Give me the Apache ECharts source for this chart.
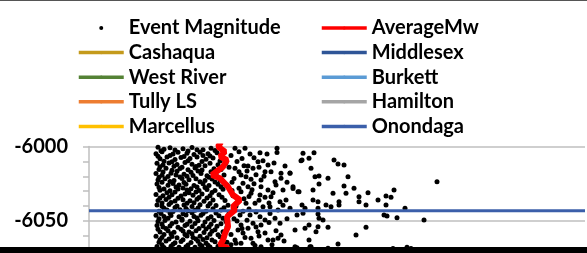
<!DOCTYPE html>
<html>
<head>
<meta charset="utf-8">
<script src="https://cdn.jsdelivr.net/npm/echarts@6/dist/echarts.min.js"></script>
<style>
  html, body { margin: 0; padding: 0; background: #fff; }
  #wrap { position: relative; width: 587px; height: 253px; overflow: hidden; background: #fff; }
  #chart { position: absolute; left: 0; top: 0; width: 587px; height: 400px; }
  #topline { position: absolute; left: 0; top: 0; width: 587px; height: 1px; background: #555; }
  #bottomband { position: absolute; left: 0; top: 247px; width: 587px; height: 6px; background: #000; }
</style>
</head>
<body>
<div id="wrap">
  <div id="chart"></div>
  <div id="topline"></div>
  <div id="bottomband"></div>
</div>
<script>
// event magnitude (Mw) vs depth (ft)
var events = [
  // dense band left of the average line
  [-2.31,-6000.5],[-2.25,-6001.8],[-2.19,-6000.9],[-2.06,-6001.5],[-1.97,-6000.7],[-1.86,-6002.1],[-1.78,-6001.2],
  [-2.33,-6004.8],[-2.27,-6003.6],[-2.16,-6005.1],[-2.11,-6003.9],[-2.02,-6004.6],[-1.95,-6005.3],[-1.89,-6003.8],[-1.81,-6004.9],[-1.72,-6004.2],
  [-2.29,-6008.3],[-2.22,-6007.1],[-2.14,-6008.8],[-2.08,-6007.4],[-1.99,-6008.1],[-1.92,-6007.0],[-1.83,-6008.6],[-1.76,-6007.7],[-1.66,-6008.4],
  [-2.32,-6011.2],[-2.26,-6012.4],[-2.20,-6011.0],[-2.12,-6012.1],[-2.04,-6010.8],[-1.97,-6011.9],[-1.90,-6012.6],[-1.79,-6011.3],[-1.71,-6012.2],[-1.63,-6010.9],
  [-2.30,-6015.4],[-2.23,-6014.6],[-2.17,-6015.9],[-2.09,-6014.8],[-2.01,-6015.6],[-1.94,-6014.5],[-1.87,-6015.8],[-1.75,-6014.9],[-1.68,-6015.5],
  [-2.33,-6018.2],[-2.27,-6019.3],[-2.18,-6018.0],[-2.13,-6019.1],[-2.05,-6018.6],[-1.96,-6019.4],[-1.88,-6018.1],[-1.82,-6019.6],[-1.73,-6018.7],[-1.65,-6019.2],
  [-2.31,-6022.5],[-2.24,-6021.6],[-2.15,-6022.8],[-2.07,-6021.4],[-2.00,-6022.3],[-1.93,-6021.7],[-1.84,-6022.9],[-1.77,-6021.8],[-1.69,-6022.4],
  [-2.32,-6025.1],[-2.21,-6026.0],[-2.16,-6024.9],[-2.10,-6025.8],[-2.03,-6025.3],[-1.95,-6026.2],[-1.86,-6025.0],[-1.80,-6026.1],[-1.71,-6025.4],[-1.62,-6025.9],
  [-2.29,-6029.4],[-2.25,-6028.5],[-2.19,-6029.7],[-2.11,-6028.6],[-2.02,-6029.2],[-1.98,-6028.3],[-1.90,-6029.6],[-1.82,-6028.8],[-1.74,-6029.5],[-1.66,-6028.7],
  [-2.33,-6032.2],[-2.26,-6033.1],[-2.17,-6032.4],[-2.08,-6033.3],[-2.04,-6031.9],[-1.96,-6032.8],[-1.87,-6031.8],[-1.79,-6033.0],[-1.70,-6032.3],
  [-2.31,-6036.3],[-2.23,-6035.5],[-2.14,-6036.6],[-2.06,-6035.7],[-1.99,-6036.4],[-1.92,-6035.4],[-1.85,-6036.8],[-1.76,-6035.9],[-1.64,-6036.2],
  [-2.32,-6039.2],[-2.27,-6040.1],[-2.20,-6039.0],[-2.12,-6039.9],[-2.05,-6039.3],[-1.97,-6040.3],[-1.89,-6039.1],[-1.81,-6040.0],[-1.73,-6039.6],[-1.61,-6039.4],
  [-2.30,-6043.4],[-2.22,-6042.6],[-2.16,-6043.7],[-2.09,-6042.5],[-2.01,-6043.2],[-1.94,-6042.8],[-1.83,-6043.5],[-1.68,-6042.7],
  [-2.33,-6046.1],[-2.25,-6047.0],[-2.18,-6046.3],[-2.10,-6047.2],[-2.03,-6046.0],[-1.95,-6046.9],[-1.88,-6046.2],[-1.78,-6047.1],[-1.70,-6046.4],
  [-2.31,-6050.4],[-2.24,-6049.6],[-2.13,-6050.7],[-2.07,-6049.5],[-1.99,-6050.2],[-1.91,-6049.8],[-1.84,-6050.6],[-1.75,-6049.7],[-1.63,-6050.3],
  [-2.32,-6053.1],[-2.26,-6054.0],[-2.19,-6053.3],[-2.11,-6054.2],[-2.04,-6053.0],[-1.97,-6053.9],[-1.86,-6053.2],[-1.80,-6054.1],[-1.72,-6053.6],
  [-2.29,-6057.3],[-2.21,-6056.5],[-2.15,-6057.6],[-2.06,-6056.7],[-2.00,-6057.4],[-1.93,-6056.6],[-1.85,-6057.8],[-1.77,-6056.9],[-1.66,-6057.2],
  [-2.33,-6060.2],[-2.27,-6061.1],[-2.17,-6060.4],[-2.12,-6061.3],[-2.02,-6060.1],[-1.96,-6061.0],[-1.89,-6060.3],[-1.82,-6061.2],[-1.69,-6060.6],
  [-2.30,-6064.3],[-2.23,-6063.5],[-2.14,-6064.6],[-2.08,-6063.7],[-1.98,-6064.4],[-1.91,-6063.6],[-1.83,-6064.8],[-1.74,-6063.9],[-1.62,-6064.2],
  [-2.32,-6067.1],[-2.25,-6067.8],[-2.18,-6066.9],[-2.10,-6067.6],[-2.03,-6067.2],[-1.94,-6067.7],[-1.87,-6066.8],[-1.79,-6067.4],[-1.71,-6067.0],
  [-2.28,-6002.9],[-2.14,-6002.4],[-2.01,-6003.1],[-1.92,-6002.2],[-1.74,-6002.7],
  [-2.31,-6006.5],[-2.19,-6006.1],[-2.05,-6006.7],[-1.86,-6006.0],[-1.79,-6006.4],
  [-2.25,-6009.9],[-2.17,-6010.3],[-2.01,-6009.6],[-1.87,-6010.1],[-1.69,-6009.7],
  [-2.29,-6013.6],[-2.15,-6013.2],[-2.07,-6013.9],[-1.93,-6013.4],[-1.84,-6013.0],
  [-2.26,-6017.1],[-2.12,-6016.6],[-1.98,-6017.3],[-1.91,-6016.5],[-1.78,-6016.9],
  [-2.30,-6020.6],[-2.21,-6020.1],[-2.09,-6020.5],[-2.02,-6020.0],[-1.80,-6020.7],
  [-2.27,-6024.0],[-2.19,-6023.5],[-2.05,-6024.1],[-1.89,-6023.6],[-1.74,-6023.9],
  [-2.30,-6027.5],[-2.13,-6027.1],[-2.06,-6027.8],[-1.92,-6027.2],[-1.84,-6027.6],[-1.68,-6027.0],
  [-2.22,-6031.0],[-2.14,-6030.5],[-2.00,-6031.1],[-1.93,-6030.6],[-1.77,-6030.9],
  [-2.29,-6034.6],[-2.20,-6034.1],[-2.11,-6034.8],[-1.90,-6034.2],[-1.82,-6034.5],[-1.67,-6034.0],
  [-2.27,-6038.0],[-2.18,-6037.6],[-2.02,-6038.1],[-1.95,-6037.7],[-1.79,-6038.2],
  [-2.25,-6041.5],[-2.14,-6041.0],[-2.03,-6041.6],[-1.91,-6041.2],[-1.76,-6041.7],[-1.65,-6041.1],
  [-2.28,-6045.0],[-2.19,-6044.6],[-2.06,-6045.1],[-1.97,-6044.5],[-1.86,-6044.9],[-1.73,-6044.7],
  [-2.30,-6048.5],[-2.21,-6048.1],[-2.07,-6048.6],[-1.92,-6048.0],[-1.81,-6048.4],[-1.66,-6048.2],
  [-2.27,-6052.0],[-2.17,-6051.6],[-2.02,-6052.1],[-1.94,-6051.7],[-1.78,-6052.2],[-1.68,-6051.9],
  [-2.31,-6055.5],[-2.23,-6055.1],[-2.08,-6055.6],[-1.90,-6055.0],[-1.83,-6055.4],[-1.74,-6055.8],
  [-2.25,-6059.0],[-2.18,-6058.6],[-2.04,-6059.1],[-1.97,-6058.5],[-1.79,-6058.9],[-1.71,-6059.3],
  [-2.29,-6062.5],[-2.20,-6062.1],[-2.06,-6062.6],[-1.93,-6062.0],[-1.86,-6062.4],[-1.77,-6062.7],
  [-2.27,-6066.0],[-2.16,-6065.6],[-2.01,-6066.1],[-1.89,-6065.7],[-1.81,-6066.2],[-1.66,-6065.9],
  // right of the average line
  [-1.54,-6001.2],[-1.44,-6001.2],[-1.29,-6004.2],[-1.12,-6001.2],[-0.86,-6004.6],[-0.87,-6009.1],[-1.31,-6010.2],[-1.26,-6009.5],
  [-1.21,-6012.4],[-1.04,-6013.1],[-1.54,-6014.6],[-1.41,-6013.1],[-1.36,-6014.6],[-1.24,-6016.9],[-1.18,-6016.9],[-1.08,-6018.0],
  [-0.99,-6018.0],[-1.48,-6019.1],[-1.43,-6020.3],[-1.38,-6022.0],[-1.28,-6022.5],[-1.14,-6023.6],[-1.08,-6021.3],[-1.46,-6024.7],
  [-1.41,-6027.0],[-1.28,-6027.0],[-1.21,-6029.2],[-1.13,-6025.8],[-1.06,-6029.2],[-0.96,-6027.0],[-0.91,-6030.3],[-1.48,-6030.3],
  [-1.38,-6031.4],[-1.29,-6032.5],[-1.18,-6033.7],[-1.09,-6037.0],[-1.03,-6035.9],[-1.51,-6037.0],[-1.43,-6038.1],[-1.34,-6038.1],
  [-1.26,-6040.4],[-1.19,-6040.4],[-1.11,-6042.6],[-0.99,-6041.5],[-0.84,-6041.5],[-1.49,-6046.0],[-1.39,-6046.0],[-1.29,-6047.1],
  [-1.24,-6049.3],[-1.14,-6048.2],[-1.09,-6051.5],[-1.48,-6052.7],[-1.36,-6051.5],[-1.28,-6052.7],[-1.51,-6056.0],[-1.41,-6054.9],
  [-1.31,-6057.2],[-1.13,-6056.5],[-1.54,-6062.7],[-1.21,-6062.7],[-1.16,-6062.7],[-1.11,-6061.6],[-1.08,-6059.4],[-1.36,-6064.9],
  [-1.53,-6064.9],[-1.48,-6064.9],[-0.94,-6067.2],[-1.28,-6067.2],
  [-1.58,-6006.0],[-1.52,-6010.0],[-1.47,-6008.0],[-1.57,-6024.0],[-1.50,-6028.0],[-1.56,-6033.0],[-1.45,-6035.0],[-1.60,-6045.0],
  [-1.52,-6050.0],[-1.46,-6058.0],[-1.58,-6059.0],[-1.40,-6042.0],[-1.33,-6044.0],[-1.35,-6025.0],[-1.33,-6019.0],[-1.24,-6034.0],
  [-1.19,-6045.0],[-1.44,-6061.0],[-1.30,-6060.0],[-1.50,-6017.0],[-1.45,-6013.0],[-1.39,-6005.0],[-1.60,-6014.0],[-1.62,-6054.0],[-1.58,-6066.0],
  [-1.50,-6003.5],[-1.35,-6007.5],[-1.22,-6005.0],[-1.42,-6016.5],[-1.30,-6014.0],[-1.15,-6011.0],[-1.55,-6021.5],[-1.25,-6020.0],
  [-1.02,-6024.0],[-1.37,-6029.0],[-1.16,-6031.0],[-1.53,-6040.0],[-1.46,-6043.5],[-1.30,-6036.0],[-1.06,-6039.5],[-1.42,-6049.5],
  [-1.33,-6054.0],[-1.20,-6051.0],[-1.02,-6048.5],[-1.55,-6048.5],[-1.47,-6055.0],[-1.24,-6058.0],[-1.38,-6061.5],[-1.17,-6066.0],
  [-1.05,-6063.5],[-1.57,-6029.5],[-1.40,-6033.5],[-1.12,-6004.0],[-1.20,-6038.0],[-1.34,-6066.5],
  [-0.88,-6009.5],[-0.99,-6017.8],[-0.96,-6028.2],[-0.90,-6030.4],[-0.87,-6039.3],[-0.86,-6044.8],[-0.92,-6046.0],[-0.94,-6056.0],
  [-0.84,-6054.9],[-0.92,-6068.0],[-0.79,-6067.2],
  [-0.75,-6004.2],[-0.80,-6007.9],[-0.55,-6009.1],[-0.51,-6011.7],[-0.45,-6012.4],[-0.78,-6014.6],[-0.70,-6019.8],[-0.74,-6020.3],
  [-0.61,-6021.3],[-0.41,-6020.3],[-0.70,-6025.2],[-0.45,-6026.5],[-0.35,-6028.0],[-0.76,-6029.2],[-0.56,-6031.4],[-0.43,-6031.4],
  [-0.21,-6031.0],[-0.30,-6033.7],[-0.76,-6035.9],[-0.71,-6037.0],[-0.50,-6037.0],[-0.30,-6037.0],[-0.11,-6035.9],[-0.63,-6039.3],
  [-0.50,-6039.3],[-0.71,-6041.5],[-0.58,-6040.4],[-0.23,-6039.3],[-0.70,-6048.2],[-0.66,-6049.3],[-0.71,-6045.3],[-0.80,-6052.7],
  [-0.71,-6053.8],[-0.61,-6054.2],[-0.73,-6057.2],[-0.23,-6054.2],[-0.33,-6059.4],[-0.05,-6046.0],[-0.80,-6062.7],[-0.78,-6067.2],
  [-0.51,-6065.4],[-0.61,-6068.3],
  [0.48,-6023.6],[0.05,-6029.2],[-0.03,-6033.2],[0.02,-6034.1],[-0.03,-6039.3],[0.16,-6041.5],[-0.02,-6046.6],[0.08,-6047.8],
  [0.35,-6049.3],[0.04,-6068.5],[0.18,-6067.6],[0.22,-6068.5]
];

// running average magnitude down the well
var averageMw = [
  [-1.68,-5997.0],[-1.71,-6000.1],[-1.64,-6003.5],[-1.69,-6006.8],[-1.62,-6009.1],[-1.66,-6013.6],[-1.77,-6019.1],
  [-1.69,-6021.3],[-1.61,-6027.0],[-1.56,-6032.6],[-1.49,-6035.9],[-1.56,-6040.4],[-1.54,-6042.6],[-1.62,-6047.1],
  [-1.61,-6053.8],[-1.64,-6058.3],[-1.66,-6062.8],[-1.69,-6066.1],[-1.61,-6068.3],[-1.63,-6072.0]
];

// formation tops (only Onondaga falls inside this window)
var formations = ['Cashaqua', 'Middlesex', 'West River', 'Burkett', 'Tully LS', 'Hamilton', 'Marcellus', 'Onondaga'];
var formationTops = [null, null, null, null, null, null, null, -6043.1];

var yTicks = [-6100, -6050, -6000];
var xMin = -3, xMax = 1.96;

var colors = {
  'Cashaqua': '#C49A1C',
  'Middlesex': '#2F5597',
  'West River': '#548235',
  'Burkett': '#5B9BD5',
  'Tully LS': '#ED7D31',
  'Hamilton': '#A5A5A5',
  'Marcellus': '#FFC000',
  'Onondaga': '#3B5FAA'
};

var chart = echarts.init(document.getElementById('chart'));

var series = [
  {
    name: 'Event Magnitude',
    type: 'scatter',
    data: events,
    symbolSize: 5,
    itemStyle: { color: '#000', opacity: 1 },
    z: 2
  },
  {
    name: 'AverageMw',
    type: 'line',
    data: averageMw,
    symbol: 'none',
    lineStyle: { color: '#FF0000', width: 6 },
    itemStyle: { color: '#FF0000' },
    z: 4
  }
];

formations.forEach(function (f, i) {
  var d = formationTops[i];
  series.push({
    name: f,
    type: 'line',
    data: d == null ? [] : [[xMin, d], [xMax, d]],
    symbol: 'none',
    lineStyle: { color: colors[f], width: 3 },
    itemStyle: { color: colors[f] },
    z: 3
  });
});

var legendText = {
  fontFamily: 'Lato',
  fontWeight: 'bold',
  fontSize: 20,
  lineHeight: 20,
  color: '#000'
};

var option = {
  animation: false,
  legend: [
    {
      left: 77, top: 18, orient: 'vertical', padding: 0,
      itemWidth: 45, itemHeight: 4, itemGap: 4.6,
      textStyle: legendText,
      lineStyle: { width: 3.5 },
      data: ['Event Magnitude', 'Cashaqua', 'West River', 'Tully LS', 'Marcellus']
    },
    {
      left: 320, top: 18, orient: 'vertical', padding: 0,
      itemWidth: 45, itemHeight: 4, itemGap: 4.6,
      textStyle: legendText,
      lineStyle: { width: 3.5 },
      data: ['AverageMw', 'Middlesex', 'Burkett', 'Hamilton', 'Onondaga']
    }
  ],
  grid: { left: 89, top: 146.5, width: 496, height: 149 },
  xAxis: {
    type: 'value',
    min: xMin,
    max: xMax,
    show: false
  },
  yAxis: {
    type: 'value',
    min: yTicks[0],
    max: yTicks[yTicks.length - 1],
    interval: 50,
    axisLine: { show: true, onZero: false, lineStyle: { color: '#BFBFBF', width: 1.5 } },
    axisTick: { show: true, length: 6, lineStyle: { color: '#BFBFBF', width: 1.5 } },
    minorTick: { show: true, splitNumber: 5, length: 6, lineStyle: { color: '#BFBFBF', width: 1.5 } },
    splitLine: { show: true, lineStyle: { color: '#BFBFBF', width: 1.5 } },
    axisLabel: {
      margin: 21,
      fontFamily: 'Lato',
      fontWeight: 'bold',
      fontSize: 20,
      color: '#000',
      formatter: function (v) { return String(v); }
    }
  },
  series: series
};

chart.setOption(option);
</script>
</body>
</html>
